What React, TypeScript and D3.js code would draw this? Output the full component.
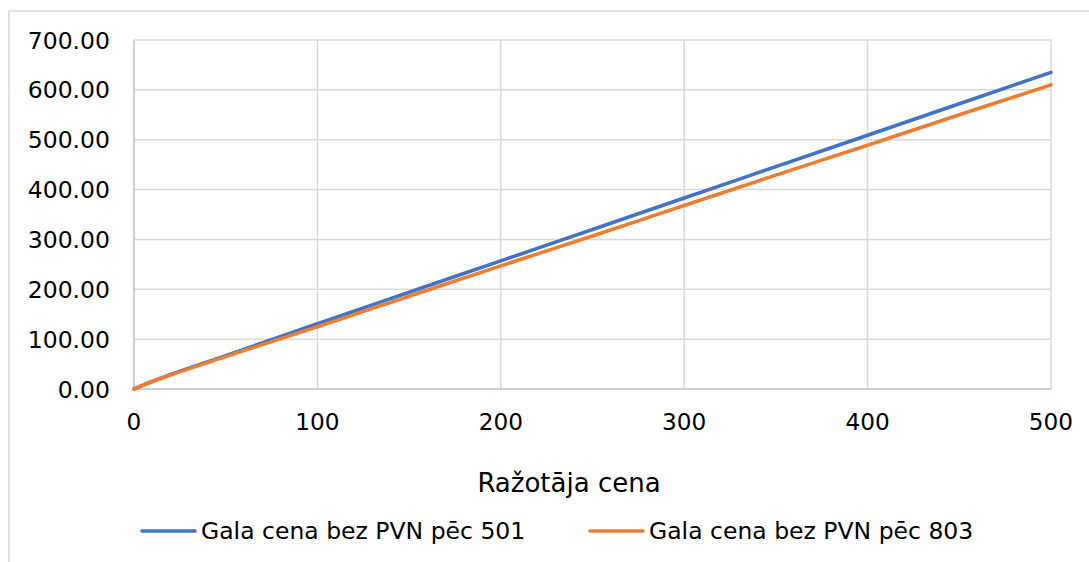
import React from "react";
import * as d3 from "d3";

const xValues = [0, 10, 20, 50, 100, 150, 200, 250, 300, 350, 400, 450, 500];
const series501 = [0, 15, 29, 67, 131, 194, 257, 320, 383, 446, 509, 572, 635];
const series803 = [0, 15, 28, 65, 125, 186, 247, 307, 368, 429, 489, 550, 610];
const seriesNames = ["Gala cena bez PVN pēc 501", "Gala cena bez PVN pēc 803"];
const seriesColors = ["#4472C4", "#ED7D31"];
const xTicks = [0, 100, 200, 300, 400, 500];
const yTicks = [0, 100, 200, 300, 400, 500, 600, 700];
const xTitle = "Ražotāja cena";

const W = 1089;
const H = 562;
const left = 134;
const right = 1051;
const top = 40;
const bottom = 389;
const font = "'DejaVu Sans', Verdana, sans-serif";

export default function App() {
  const x = d3.scaleLinear().domain([0, 500]).range([left, right]);
  const y = d3.scaleLinear().domain([0, 700]).range([bottom, top]);
  const line = d3
    .line<number>()
    .x((_, i) => x(xValues[i]))
    .y((d) => y(d))
    .curve(d3.curveMonotoneX);
  const all = [series501, series803];
  const legendX = [142, 590];
  return (
    <svg
      width={W}
      height={H}
      style={{ position: "absolute", left: 0, top: 0, background: "#fff" }}
      fontFamily={font}
    >
      <rect x={0} y={0} width={W} height={H} fill="#fff" />
      <rect x={9} y={11} width={1200} height={700} fill="none" stroke="#D9D9D9" strokeWidth={1.5} />
      {yTicks.map((t) => (
        <line key={"gy" + t} x1={left} x2={right} y1={y(t)} y2={y(t)} stroke="#D9D9D9" strokeWidth={1.5} />
      ))}
      {xTicks.map((t) => (
        <line key={"gx" + t} x1={x(t)} x2={x(t)} y1={top} y2={bottom} stroke="#D9D9D9" strokeWidth={1.5} />
      ))}
      <line x1={left} x2={right} y1={bottom} y2={bottom} stroke="#C8C8C8" strokeWidth={1.5} />
      <line x1={left} x2={left} y1={top} y2={bottom} stroke="#C8C8C8" strokeWidth={1.5} />
      {all.map((s, i) => (
        <path
          key={"s" + i}
          d={line(s) || ""}
          fill="none"
          stroke={seriesColors[i]}
          strokeWidth={3.6}
          strokeLinejoin="round"
          strokeLinecap="round"
        />
      ))}
      {yTicks.map((t) => (
        <text key={"ly" + t} x={110} y={y(t) + 8.5} textAnchor="end" fontSize={23.5} fill="#000">
          {d3.format(".2f")(t)}
        </text>
      ))}
      {xTicks.map((t) => (
        <text key={"lx" + t} x={x(t)} y={430} textAnchor="middle" fontSize={23.2} fill="#000">
          {t}
        </text>
      ))}
      <text x={569} y={492} textAnchor="middle" fontSize={26} fill="#000">
        {xTitle}
      </text>
      {seriesNames.map((n, i) => (
        <g key={"lg" + i}>
          <line x1={legendX[i]} x2={legendX[i] + 53} y1={531} y2={531} stroke={seriesColors[i]} strokeWidth={3.6} strokeLinecap="round" />
          <text x={legendX[i] + 59} y={538.5} fontSize={23.5} fill="#000">
            {n}
          </text>
        </g>
      ))}
    </svg>
  );
}
